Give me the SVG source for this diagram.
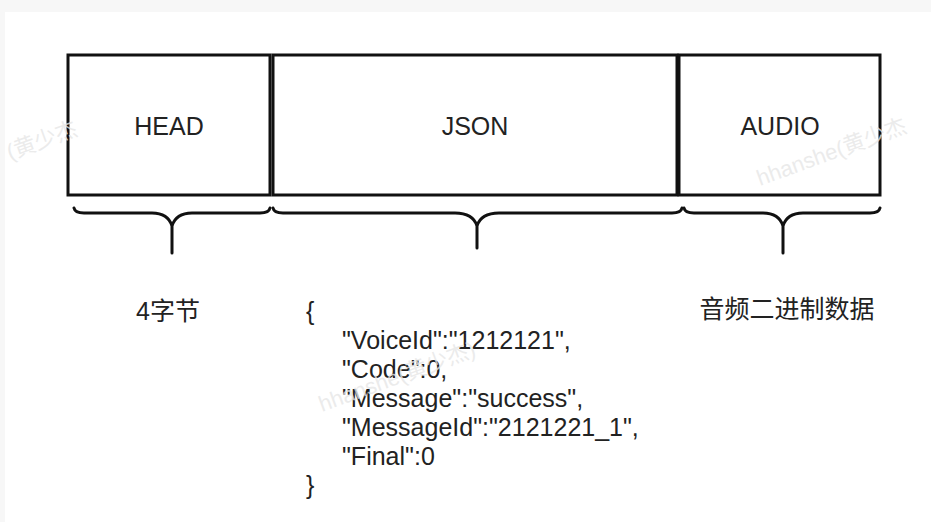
<svg xmlns="http://www.w3.org/2000/svg" width="931" height="522" viewBox="0 0 931 522">
  <style>
    .box { fill: #ffffff; stroke: #111111; stroke-width: 3; }
    .lbl { font-family: "Liberation Sans", "Noto Sans CJK SC", sans-serif; font-size: 25px; fill: #222222; }
    .mid { text-anchor: middle; }
    .brace { fill: none; stroke: #111111; stroke-width: 3; stroke-linecap: round; stroke-linejoin: round; }
    .wm { font-family: "Liberation Sans", "Noto Sans CJK SC", sans-serif; font-size: 22px; fill: #e6e6e6; fill-opacity: 0.8; }
  </style>
  <rect x="0" y="0" width="931" height="522" fill="#f7f7f7"/>
  <rect x="5" y="12" width="926" height="510" fill="#ffffff"/>

  <g id="head">
    <rect class="box" x="68" y="55" width="202" height="140"/>
    <text class="lbl mid" x="169" y="135">HEAD</text>
  </g>
  <g id="json">
    <rect class="box" x="273" y="55" width="404" height="140"/>
    <text class="lbl mid" x="475" y="135">JSON</text>
  </g>
  <g id="audio">
    <rect class="box" x="679" y="55" width="201" height="140"/>
    <text class="lbl mid" x="780" y="135">AUDIO</text>
  </g>

  <g id="connectors">
    <path class="brace" d="M74,208 Q75,213 84,213 L152,213 Q168,213 172,226 Q176,213 192,213 L260,213 Q269,213 270,208 M172,226 L172,253"/>
    <path class="brace" d="M273,208 Q274,213 283,213 L455,213 Q473,213 477,226 Q481,213 499,213 L672,213 Q681,213 682,208 M477,226 L477,248"/>
    <path class="brace" d="M684,208 Q685,213 694,213 L763,213 Q779,213 783,226 Q787,213 803,213 L870,213 Q879,213 880,208 M783,226 L783,253"/>
  </g>

  <g id="head-desc">
    <text class="lbl mid" x="168" y="320">4字节</text>
  </g>
  <g id="json-desc">
    <text class="lbl" x="306" y="320">{</text>
    <text class="lbl" x="342" y="349">"VoiceId":"1212121",</text>
    <text class="lbl" x="342" y="378">"Code":0,</text>
    <text class="lbl" x="342" y="407">"Message":"success",</text>
    <text class="lbl" x="342" y="436">"MessageId":"2121221_1",</text>
    <text class="lbl" x="342" y="465">"Final":0</text>
    <text class="lbl" x="306" y="494">}</text>
  </g>
  <g id="audio-desc">
    <text class="lbl mid" x="787" y="318">音频二进制数据</text>
  </g>

  <g id="watermarks">
    <text class="wm" transform="translate(10,160) rotate(-20)">(黄少杰</text>
    <text class="wm" transform="translate(760,186) rotate(-20)">hhanshe(黄少杰</text>
    <text class="wm" transform="translate(322,412) rotate(-20)">hhanshe(黄少杰)</text>
  </g>
</svg>
